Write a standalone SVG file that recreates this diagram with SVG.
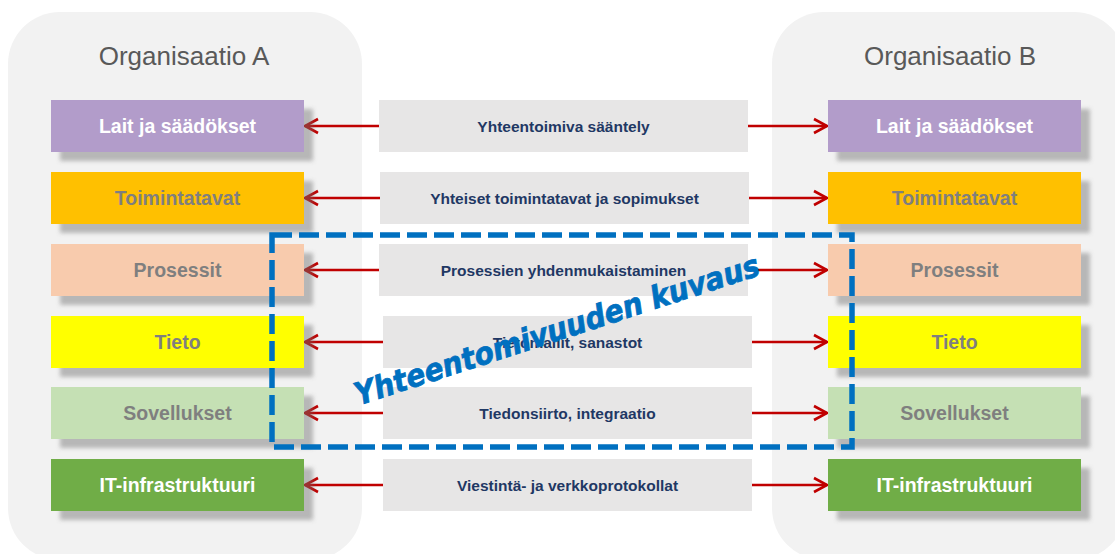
<svg xmlns="http://www.w3.org/2000/svg" width="1115" height="554" viewBox="0 0 1115 554">
  <defs>
    <filter id="shadow" x="-0.1" y="-0.3" width="1.3" height="1.9">
      <feDropShadow dx="9" dy="9" stdDeviation="2.2" flood-color="#6f6f6f" flood-opacity="0.45"/>
    </filter>
    <marker id="head" markerUnits="userSpaceOnUse" markerWidth="18" markerHeight="18" refX="15" refY="8" orient="auto" overflow="visible">
      <path d="M2,1 L15,8 L2,15" fill="none" stroke="#C00000" stroke-width="2.6"/>
    </marker>
    <style>
      .panel { fill: #F2F2F2; }
      .title { font-family: "Liberation Sans", Arial, sans-serif; font-size: 26px; fill: #595959; text-anchor: middle; }
      .node rect { filter: url(#shadow); }
      .nlabel { font-family: "Liberation Sans", Arial, sans-serif; font-weight: bold; font-size: 19.5px; text-anchor: middle; }
      .white { fill: #FFFFFF; }
      .grey { fill: #7F7F7F; }
      .mid rect { fill: #E7E6E6; }
      .mlabel { font-family: "Liberation Sans", Arial, sans-serif; font-weight: bold; font-size: 15.5px; fill: #1F3864; text-anchor: middle; }
      .conn line { stroke: #C00000; stroke-width: 2.6; marker-end: url(#head); }
      .scope { fill: none; stroke: #0070C0; stroke-width: 5.5; stroke-dasharray: 20 7; }
      .scope-label { font-family: "DejaVu Sans", Verdana, sans-serif; font-weight: bold; font-style: italic; font-size: 31px; fill: #0070C0; stroke: #0070C0; stroke-width: 0.8; text-anchor: middle; }
    </style>
  </defs>

  <!-- organisation panels -->
  <g id="org-a">
    <rect class="panel" x="8" y="12" width="354" height="548" rx="52"/>
    <text class="title" x="184" y="65">Organisaatio A</text>
  </g>
  <g id="org-b">
    <rect class="panel" x="772" y="12" width="354" height="548" rx="52"/>
    <text class="title" x="950" y="65">Organisaatio B</text>
  </g>

  <!-- connectors -->
  <g id="connectors" class="conn">
    <line x1="379" y1="126" x2="305" y2="126"/>
    <line x1="748" y1="126" x2="827" y2="126"/>
    <line x1="380" y1="198" x2="305" y2="198"/>
    <line x1="749" y1="198" x2="827" y2="198"/>
    <line x1="379" y1="270" x2="305" y2="270"/>
    <line x1="748" y1="270" x2="827" y2="270"/>
    <line x1="383" y1="342" x2="305" y2="342"/>
    <line x1="752" y1="342" x2="827" y2="342"/>
    <line x1="383" y1="413" x2="305" y2="413"/>
    <line x1="752" y1="413" x2="827" y2="413"/>
    <line x1="383" y1="485" x2="305" y2="485"/>
    <line x1="752" y1="485" x2="827" y2="485"/>
  </g>

  <!-- organisation A layers -->
  <g id="a-laws" class="node"><rect x="51" y="100" width="253" height="52" fill="#B29CCA"/><text class="nlabel white" x="177.5" y="133">Lait ja säädökset</text></g>
  <g id="a-practices" class="node"><rect x="51" y="172" width="253" height="52" fill="#FFC000"/><text class="nlabel grey" x="177.5" y="205">Toimintatavat</text></g>
  <g id="a-processes" class="node"><rect x="51" y="244" width="253" height="52" fill="#F8CBAD"/><text class="nlabel grey" x="177.5" y="277">Prosessit</text></g>
  <g id="a-data" class="node"><rect x="51" y="316" width="253" height="52" fill="#FFFF00"/><text class="nlabel grey" x="177.5" y="349">Tieto</text></g>
  <g id="a-apps" class="node"><rect x="51" y="387" width="253" height="52" fill="#C5E0B4"/><text class="nlabel grey" x="177.5" y="420">Sovellukset</text></g>
  <g id="a-infra" class="node"><rect x="51" y="459" width="253" height="52" fill="#70AD47"/><text class="nlabel white" x="177.5" y="492">IT-infrastruktuuri</text></g>

  <!-- organisation B layers -->
  <g id="b-laws" class="node"><rect x="828" y="100" width="253" height="52" fill="#B29CCA"/><text class="nlabel white" x="954.5" y="133">Lait ja säädökset</text></g>
  <g id="b-practices" class="node"><rect x="828" y="172" width="253" height="52" fill="#FFC000"/><text class="nlabel grey" x="954.5" y="205">Toimintatavat</text></g>
  <g id="b-processes" class="node"><rect x="828" y="244" width="253" height="52" fill="#F8CBAD"/><text class="nlabel grey" x="954.5" y="277">Prosessit</text></g>
  <g id="b-data" class="node"><rect x="828" y="316" width="253" height="52" fill="#FFFF00"/><text class="nlabel grey" x="954.5" y="349">Tieto</text></g>
  <g id="b-apps" class="node"><rect x="828" y="387" width="253" height="52" fill="#C5E0B4"/><text class="nlabel grey" x="954.5" y="420">Sovellukset</text></g>
  <g id="b-infra" class="node"><rect x="828" y="459" width="253" height="52" fill="#70AD47"/><text class="nlabel white" x="954.5" y="492">IT-infrastruktuuri</text></g>

  <!-- shared interoperability layers -->
  <g id="m-regulation" class="mid"><rect x="379" y="100" width="369" height="52"/><text class="mlabel" x="563.5" y="132">Yhteentoimiva sääntely</text></g>
  <g id="m-agreements" class="mid"><rect x="380" y="172" width="369" height="52"/><text class="mlabel" x="564.5" y="204">Yhteiset toimintatavat ja sopimukset</text></g>
  <g id="m-processes" class="mid"><rect x="379" y="244" width="369" height="52"/><text class="mlabel" x="563.5" y="276">Prosessien yhdenmukaistaminen</text></g>
  <g id="m-models" class="mid"><rect x="383" y="316" width="369" height="52"/><text class="mlabel" x="567.5" y="348">Tietomallit, sanastot</text></g>
  <g id="m-integration" class="mid"><rect x="383" y="387" width="369" height="52"/><text class="mlabel" x="567.5" y="419">Tiedonsiirto, integraatio</text></g>
  <g id="m-protocols" class="mid"><rect x="383" y="459" width="369" height="52"/><text class="mlabel" x="567.5" y="491">Viestintä- ja verkkoprotokollat</text></g>

  <!-- scope of the interoperability description -->
  <g id="scope">
    <rect class="scope" x="272" y="235" width="580" height="212"/>
    <text class="scope-label" transform="translate(560 340) rotate(-18)" textLength="424" lengthAdjust="spacingAndGlyphs">Yhteentomivuuden kuvaus</text>
  </g>
</svg>
